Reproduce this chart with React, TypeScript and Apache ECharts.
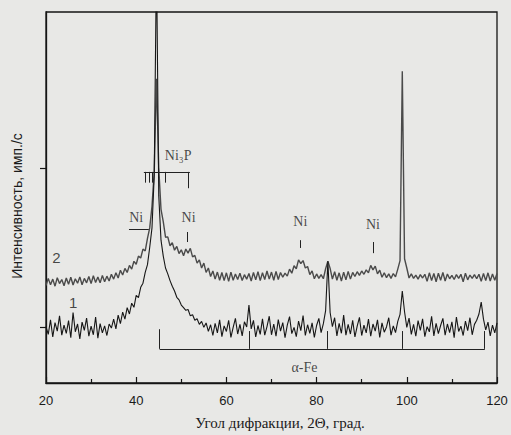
import { useEffect, useRef } from "react";
import * as echarts from "echarts";

// Diffraction angle sampling grid (2Θ, degrees)
const ANGLE_START = 20;
const ANGLE_STEP = 0.5;

// Curve 1 (black) intensity, arbitrary units
const curve1 = [
  15.2, 13.1, 17.0, 12.4, 16.3, 14.0, 18.1, 12.9, 15.6, 13.4, // 20.0-24.5
  16.8, 12.2, 19.0, 13.8, 15.9, 11.9, 16.4, 14.2, 17.5, 12.6, // 25.0-29.5
  15.3, 13.0, 17.8, 12.1, 16.0, 13.5, 15.4, 12.8, 15.9, 14.8, // 30.0-34.5
  17.2, 14.6, 18.3, 16.0, 19.1, 17.2, 20.3, 18.6, 21.5, 20.4, // 35.0-39.5
  23.6, 23.0, 25.8, 26.9, 29.8, 31.9, 36.6, 41.8, 56.0, 115, // 40.0-44.5
  50.5, 38.5, 34.2, 31.0, 29.4, 27.6, 26.1, 24.8, 23.1, 22.4, // 45.0-49.5
  21.0, 20.3, 19.6, 19.8, 18.1, 18.4, 16.9, 17.3, 15.8, 16.6, // 50.0-54.5
  15.0, 16.2, 13.9, 15.7, 12.8, 16.1, 13.5, 17.0, 12.5, 15.4, // 55.0-59.5
  13.9, 16.9, 12.3, 15.0, 17.4, 13.2, 15.8, 12.7, 16.5, 15.1, // 60.0-64.5
  21.0, 14.6, 16.9, 12.4, 15.5, 13.1, 17.3, 12.9, 15.2, 18.0, // 65.0-69.5
  13.0, 15.9, 12.6, 17.1, 14.0, 16.3, 12.2, 15.6, 17.9, 13.3, // 70.0-74.5
  15.0, 12.5, 16.7, 14.1, 18.2, 12.8, 15.7, 13.4, 16.2, 12.3, // 75.0-79.5
  15.5, 17.4, 13.6, 16.0, 19.5, 32.8, 19.0, 15.2, 17.6, 12.7, // 80.0-84.5
  16.1, 13.4, 18.3, 12.9, 15.8, 13.2, 16.9, 12.4, 15.3, 17.7, // 85.0-89.5
  12.8, 15.6, 13.5, 17.2, 12.6, 15.9, 14.0, 17.0, 12.3, 16.2, // 90.0-94.5
  13.7, 15.1, 17.6, 12.9, 15.4, 13.6, 16.6, 18.5, 24.8, 19.2, // 95.0-99.5
  15.0, 17.5, 13.1, 15.8, 12.6, 16.8, 14.2, 17.3, 12.5, 15.2, // 100.0-104.5
  13.8, 18.0, 12.7, 16.1, 13.3, 15.5, 17.4, 12.9, 15.9, 13.6, // 105.0-109.5
  16.5, 12.2, 17.8, 13.9, 15.3, 12.8, 16.7, 14.1, 17.6, 13.0, // 110.0-114.5
  15.8, 16.9, 18.6, 21.8, 17.2, 14.3, 16.4, 12.7, 15.6, 13.5, // 115.0-119.5
  16.2, // 120.0
];

// Curve 2 (grey) intensity, arbitrary units
const curve2 = [
  26.3, 28.2, 26.5, 28.0, 26.1, 28.4, 26.8, 27.9, 26.2, 28.3, // 20.0-24.5
  26.6, 28.5, 26.4, 28.1, 26.9, 28.6, 26.5, 28.2, 27.0, 28.7, // 25.0-29.5
  26.8, 28.9, 27.1, 28.6, 27.0, 29.0, 27.3, 28.8, 27.5, 29.3, // 30.0-34.5
  28.0, 29.7, 28.3, 30.4, 29.1, 30.9, 29.8, 31.7, 30.7, 32.8, // 35.0-39.5
  32.0, 34.2, 33.7, 36.1, 35.6, 39.0, 41.8, 47.6, 57.0, 82.0, // 40.0-44.5
  58.0, 46.8, 43.5, 39.3, 39.4, 37.0, 37.8, 35.8, 36.8, 34.9, // 45.0-49.5
  35.9, 34.3, 36.1, 35.0, 36.3, 34.0, 34.4, 32.3, 33.2, 31.0, // 50.0-54.5
  32.3, 29.8, 31.0, 28.7, 30.2, 28.0, 29.9, 27.7, 29.8, 27.6, // 55.0-59.5
  29.7, 27.4, 29.9, 27.7, 29.4, 27.9, 29.6, 27.6, 29.2, 28.0, // 60.0-64.5
  29.5, 27.5, 29.8, 27.8, 30.0, 27.6, 29.7, 27.9, 30.2, 28.0, // 65.0-69.5
  29.9, 27.7, 30.1, 27.9, 29.8, 28.5, 29.6, 28.8, 30.7, 29.6, // 70.0-74.5
  31.6, 30.8, 33.2, 32.2, 33.0, 31.0, 31.4, 29.2, 30.2, 28.1, // 75.0-79.5
  29.4, 28.2, 29.2, 28.1, 30.8, 32.8, 30.9, 28.0, 30.0, 27.7, // 80.0-84.5
  29.7, 27.5, 29.9, 27.8, 30.1, 28.0, 29.8, 28.7, 30.0, 29.0, // 85.0-89.5
  30.2, 29.3, 30.5, 29.7, 31.7, 30.5, 31.5, 29.4, 30.4, 28.5, // 90.0-94.5
  29.7, 28.4, 29.4, 28.2, 29.5, 28.6, 30.7, 33.0, 84.0, 33.5, // 95.0-99.5
  31.0, 28.3, 29.4, 28.2, 29.1, 28.0, 29.2, 28.3, 29.3, 27.4, // 100.0-104.5
  29.7, 27.6, 29.5, 27.3, 29.6, 27.7, 29.8, 27.5, 29.4, 28.1, // 105.0-109.5
  29.0, 27.9, 29.2, 28.2, 29.3, 27.3, 29.6, 27.8, 29.1, 28.2, // 110.0-114.5
  29.2, 28.1, 29.3, 27.4, 29.5, 27.6, 29.7, 27.5, 29.4, 27.7, // 115.0-119.5
  29.5, // 120.0
];

// Axis ranges
const X_MIN = 20;
const X_MAX = 120;
const X_INTERVAL = 20;
const Y_MIN = 0;
const Y_MAX = 100;
const Y_TICKS = [15.1, 57.9];

// Phase marker segments in data coordinates: [[x1, y1], [x2, y2]]
const ni3pMarks: [number, number][][] = [
  [[41.7, 56.9], [51.9, 56.9]],
  [[42.1, 56.9], [42.1, 54.0]],
  [[42.8, 56.9], [42.8, 54.0]],
  [[43.6, 56.9], [43.6, 54.0]],
  [[46.4, 56.9], [46.4, 54.0]],
  [[51.5, 56.9], [51.5, 52.5]],
];
const niMarks: [number, number][][] = [
  [[38.4, 41.5], [42.8, 41.5]],
  [[51.3, 40.7], [51.3, 38.0]],
  [[76.3, 38.5], [76.3, 36.4]],
  [[92.5, 38.0], [92.5, 35.0]],
];
const feMarks: [number, number][][] = [
  [[45.2, 9.2], [117.3, 9.2]],
  [[45.2, 9.2], [45.2, 14.5]],
  [[65.0, 9.2], [65.0, 14.0]],
  [[82.4, 9.2], [82.4, 14.0]],
  [[99.0, 9.2], [99.0, 14.0]],
  [[117.2, 9.2], [117.2, 14.0]],
];

// Text annotations in data coordinates
const phaseLabels: { text: string; at: [number, number] }[] = [
  { text: "Ni", at: [40.0, 44.7] },
  { text: "Ni", at: [51.6, 44.7] },
  { text: "Ni", at: [76.4, 43.4] },
  { text: "Ni", at: [92.5, 42.6] },
  { text: "α-Fe", at: [77.3, 4.3] },
  { text: "Ni₃P", at: [49.3, 61.2] },
];
const curveLabels: { text: string; at: [number, number] }[] = [
  { text: "2", at: [22.3, 33.7] },
  { text: "1", at: [26.0, 21.6] },
];

const X_TITLE = "Угол дифракции, 2Θ, град.";
const Y_TITLE = "Интенсивность, имп./с";

const toPairs = (vals: number[]) =>
  vals.map((v, i) => [ANGLE_START + i * ANGLE_STEP, v]);

const segs = (list: [number, number][][]) =>
  list.map((s) => [{ coord: s[0] }, { coord: s[1] }]);

export default function App() {
  const ref = useRef<HTMLDivElement>(null);
  useEffect(() => {
    if (!ref.current) return;
    const chart = echarts.init(ref.current, undefined, { renderer: "svg" });
    const serif = "'Liberation Serif', 'Times New Roman', serif";
    const sans = "'Liberation Sans', Arial, sans-serif";
    chart.setOption({
      animation: false,
      backgroundColor: "#e8e8e6",
      grid: {
        left: 46,
        right: 14,
        top: 12,
        bottom: 52,
        show: true,
        borderColor: "#151515",
        borderWidth: 1.3,
        backgroundColor: "transparent",
      },
      xAxis: {
        type: "value",
        min: X_MIN,
        max: X_MAX,
        interval: X_INTERVAL,
        axisLine: { show: true, lineStyle: { color: "#151515", width: 1.3 } },
        axisTick: { show: true, inside: true, length: 6, lineStyle: { color: "#151515", width: 1.2 } },
        minorTick: { show: true, splitNumber: 2, length: 4, lineStyle: { color: "#151515", width: 1.2 } },
        axisLabel: { color: "#1a1a1a", fontFamily: sans, fontSize: 13, margin: 11 },
        splitLine: { show: false },
      },
      yAxis: {
        type: "value",
        min: Y_MIN,
        max: Y_MAX,
        axisLine: { show: true, lineStyle: { color: "#151515", width: 1.3 } },
        axisTick: {
          show: true,
          inside: false,
          length: 6,
          customValues: Y_TICKS,
          lineStyle: { color: "#151515", width: 1.2 },
        },
        axisLabel: { show: false },
        splitLine: { show: false },
      },
      graphic: [
        {
          type: "text",
          x: 17,
          y: 206,
          rotation: Math.PI / 2,
          style: {
            text: Y_TITLE,
            align: "center",
            verticalAlign: "middle",
            fill: "#1a1a1a",
            font: `14px ${sans}`,
          },
        },
        {
          type: "text",
          x: 280,
          y: 423,
          style: {
            text: X_TITLE,
            align: "center",
            verticalAlign: "middle",
            fill: "#1a1a1a",
            font: `15px ${serif}`,
          },
        },
      ],
      series: [
        {
          type: "line",
          name: "2",
          data: toPairs(curve2),
          showSymbol: false,
          lineStyle: { color: "#4a4a4a", width: 1.4 },
          z: 2,
        },
        {
          type: "line",
          name: "1",
          data: toPairs(curve1),
          showSymbol: false,
          lineStyle: { color: "#161616", width: 1.1 },
          z: 3,
        },
        {
          type: "scatter",
          name: "labels",
          symbolSize: 1,
          itemStyle: { color: "rgba(0,0,0,0)" },
          silent: true,
          z: 5,
          label: {
            show: true,
            position: "inside",
            formatter: "{b}",
            color: "#1a1a1a",
            fontFamily: serif,
            fontSize: 14,
          },
          data: [
            ...phaseLabels.map((l) => ({ name: l.text, value: l.at })),
            ...curveLabels.map((l) => ({
              name: l.text,
              value: l.at,
              label: { fontFamily: sans, fontSize: 15 },
            })),
          ],
          markLine: {
            silent: true,
            symbol: ["none", "none"],
            label: { show: false },
            lineStyle: { color: "#222", width: 1, type: "solid" },
            data: [...segs(ni3pMarks), ...segs(niMarks), ...segs(feMarks)],
          },
        },
      ],
    });
    return () => chart.dispose();
  }, []);
  return (
    <div
      ref={ref}
      style={{ position: "fixed", left: 0, top: 0, width: 511, height: 435 }}
    />
  );
}
